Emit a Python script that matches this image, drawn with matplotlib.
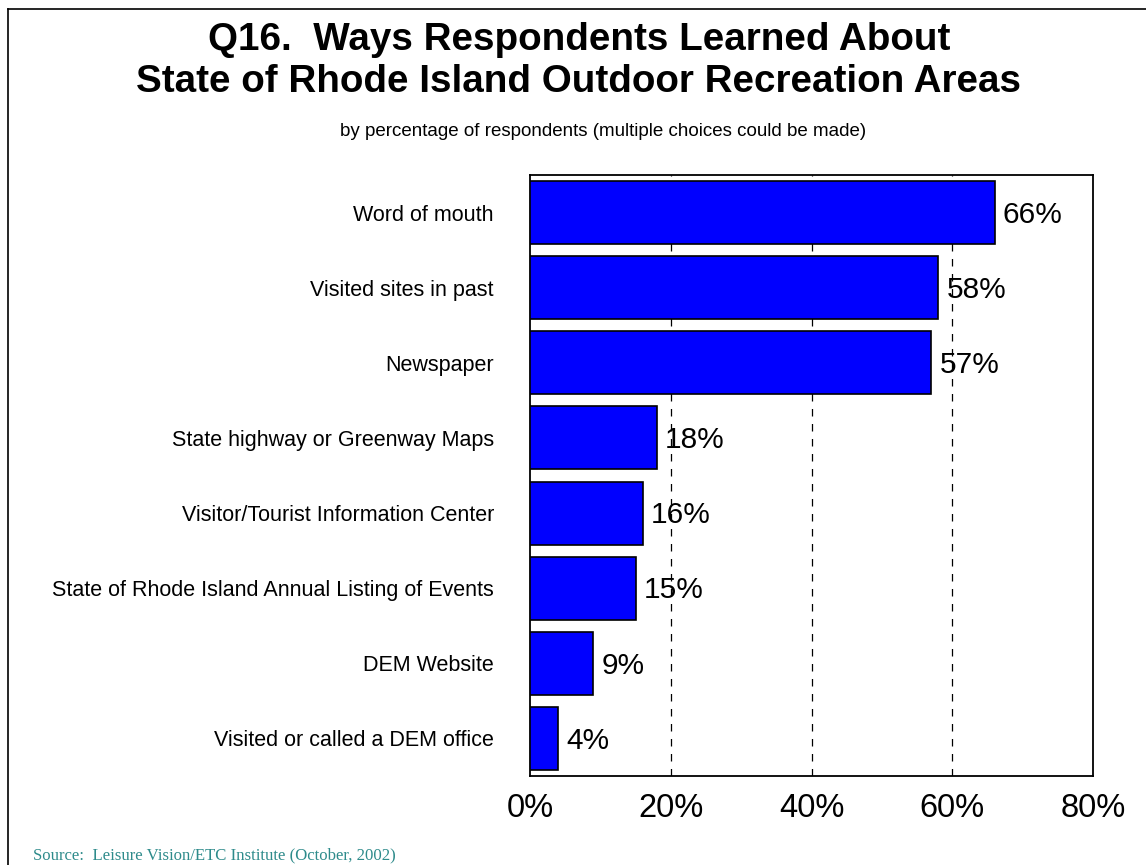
import matplotlib.pyplot as plt
from matplotlib.lines import Line2D

plt.rcParams['font.family'] = ['Liberation Sans', 'DejaVu Sans']

sources = [
    'Word of mouth',
    'Visited sites in past',
    'Newspaper',
    'State highway or Greenway Maps',
    'Visitor/Tourist Information Center',
    'State of Rhode Island Annual Listing of Events',
    'DEM Website',
    'Visited or called a DEM office',
]
percents = [66, 58, 57, 18, 16, 15, 9, 4]
ticks = [0, 20, 40, 60, 80]


def main():
    fig = plt.figure(figsize=(11.46, 8.65), dpi=100)
    ax = fig.add_axes([0.4625, 0.1029, 0.4913, 0.6948])

    pos = list(range(len(sources)))
    ax.barh(pos, percents, height=0.84, color='#0000FF',
            edgecolor='black', linewidth=1.2, zorder=3)
    for y, v in zip(pos, percents):
        ax.text(v + 1.2, y + 0.03, f'{v}%', va='center', ha='left',
                fontsize=21.5, zorder=4)

    ax.set_xlim(0, 80)
    ax.set_ylim(len(sources) - 0.5, -0.5)
    ax.set_xticks(ticks)
    ax.set_xticklabels([f'{t}%' for t in ticks], fontsize=23.5)
    ax.tick_params(axis='x', length=0, pad=12)
    ax.set_yticks(pos)
    ax.set_yticklabels(sources, fontsize=15.5)
    ax.tick_params(axis='y', length=0, pad=26)
    for t in ticks[1:-1]:
        ax.axvline(t, color='black', linestyle=(0, (6, 6)),
                   linewidth=0.9, zorder=1)
    for s in ax.spines.values():
        s.set_linewidth(1.3)

    fig.text(0.505, 0.954, 'Q16.  Ways Respondents Learned About',
             ha='center', va='center', fontsize=27.8, fontweight='bold')
    fig.text(0.505, 0.905, 'State of Rhode Island Outdoor Recreation Areas',
             ha='center', va='center', fontsize=27.8, fontweight='bold')
    fig.text(0.526, 0.848,
             'by percentage of respondents (multiple choices could be made)',
             ha='center', va='center', fontsize=13.5)
    fig.text(0.029, 0.002, 'Source:  Leisure Vision/ETC Institute (October, 2002)',
             ha='left', va='bottom', fontsize=12.1, color='#2E8B8B',
             family=['Liberation Serif', 'DejaVu Serif'])

    # outer frame, open on the right and bottom
    fig.add_artist(Line2D([0.007, 1.0], [0.9896, 0.9896], color='black',
                          linewidth=1.2, transform=fig.transFigure))
    fig.add_artist(Line2D([0.007, 0.007], [0.0, 0.9896], color='black',
                          linewidth=1.2, transform=fig.transFigure))

    fig.savefig('out.png', dpi=100)


if __name__ == '__main__':
    main()
